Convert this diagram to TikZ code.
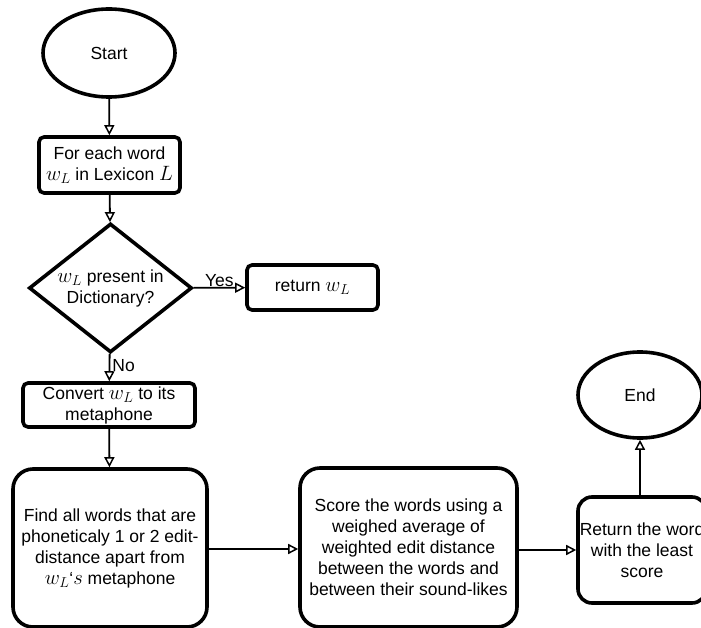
\documentclass[tikz,border=0pt]{standalone}
\usepackage{fontspec}
\setmainfont{Liberation Sans}
\usetikzlibrary{shapes.geometric,arrows.meta}
\newcommand{\mymath}[1]{{\fontsize{20.74}{21}\selectfont\(#1\)}}
\begin{document}
\begin{tikzpicture}[x=1pt,y=-1pt,
  every node/.style={font=\fontsize{17.5}{21}\selectfont, align=center, inner sep=0pt},
  oval/.style={ellipse, draw, line width=3.6pt, minimum width=#1},
  sbox/.style={draw, line width=3.6pt, rounded corners=5pt},
  bbox/.style={draw, line width=3.6pt, rounded corners=20pt},
  dec/.style={diamond, draw, line width=3.6pt, minimum width=163pt, minimum height=129pt},
  conn/.style={line width=1.8pt, -{Triangle[open, length=10pt, width=10pt, line width=1.5pt]}},
  lab/.style={font=\fontsize{17.5}{18}\selectfont}]
\useasboundingbox (0,0) rectangle (701,628);
\clip (0,0) rectangle (701,628);
\node[oval=132pt, minimum height=88pt] (start) at (109,53) {Start};
\node[sbox, minimum width=141pt, minimum height=56pt] (each) at (109.5,165) {For each word\\ \mymath{w_L} in Lexicon \mymath{L}};
\node[dec] (dict) at (110.5,288) {};
\node (dicttext) at (dict.center) {\mymath{w_L} present in\\ Dictionary?};
\node[sbox, minimum width=131pt, minimum height=45pt] (ret) at (312.5,287.5) {return \mymath{w_L}};
\node[sbox, minimum width=172pt, minimum height=44pt] (conv) at (109,405) {Convert \mymath{w_L} to its\\ metaphone};
\node[bbox, minimum width=194pt, minimum height=158pt] (find) at (110,548) {Find all words that are\\ phoneticaly 1 or 2 edit-\\ distance apart from\\ \mymath{w_L}‘\mymath{s} metaphone};
\node[bbox, minimum width=217pt, minimum height=159pt] (score) at (408.5,547.5) {Score the words using a\\ weighed average of\\ weighted edit distance\\ between the words and\\ between their sound-likes};
\node[sbox, rounded corners=14pt, minimum width=128pt, minimum height=106pt] (rw) at (642,550) {Return the word\\ with the least\\ score};
\node[oval=124pt, minimum height=86pt] (end) at (640,395) {End};
\draw[conn] (start) -- (each);
\draw[conn] (each) -- (dict);
\draw[conn] (dict) -- node[lab, above, pos=0.5] {Yes} (ret);
\draw[conn] (dict) -- node[lab, right, pos=0.45, xshift=2pt] {No} (conv);
\draw[conn] (conv) -- (find);
\draw[conn] (find.east |- 0,549) -- (score.west |- 0,549);
\draw[conn] (score.east |- 0,550) -- (rw.west |- 0,550);
\draw[conn] (rw.north -| 640,0) -- (end);
\end{tikzpicture}
\end{document}
